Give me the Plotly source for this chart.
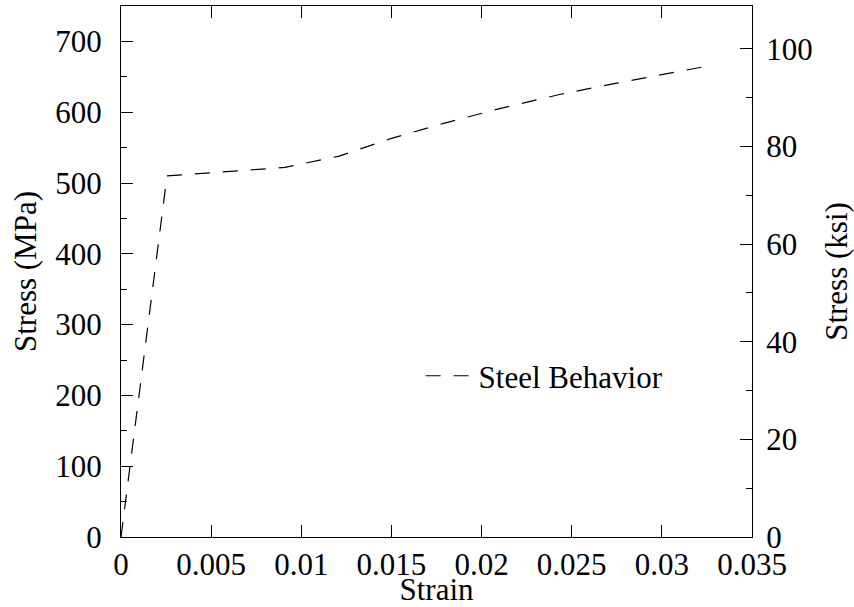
import plotly.graph_objects as go

# Data
strain = [0, 0.00255, 0.0091, 0.0121, 0.015, 0.018, 0.021, 0.0245, 0.0275, 0.0305, 0.0325]
stress_mpa = [0, 510, 522, 538, 563, 585, 605, 626, 641, 656, 665]
MPA_PER_KSI = 6.895
stress_ksi = [s / MPA_PER_KSI for s in stress_mpa]

x_tickvals = [0, 0.005, 0.01, 0.015, 0.02, 0.025, 0.03, 0.035]
x_ticktext = ["0", "0.005", "0.01", "0.015", "0.02", "0.025", "0.03", "0.035"]
y_tickvals = [0, 100, 200, 300, 400, 500, 600, 700]
y2_tickvals = [0, 20, 40, 60, 80, 100]

FONT = "Liberation Serif"
FS = 31

fig = go.Figure()
fig.add_trace(go.Scatter(
    x=strain, y=stress_mpa, mode="lines", name="Steel Behavior",
    line=dict(color="black", width=1.2, dash="15px,13px"),
))
fig.add_trace(go.Scatter(
    x=strain, y=stress_ksi, mode="lines", yaxis="y2", showlegend=False,
    line=dict(color="rgba(0,0,0,0)", width=0), hoverinfo="skip",
))

axis_common = dict(
    showgrid=False, zeroline=False, showline=True, linecolor="black", linewidth=1,
    ticks="inside", ticklen=12, tickcolor="black", tickwidth=1, automargin=False,
    tickfont=dict(family=FONT, size=FS, color="black"),
)

fig.update_layout(
    width=854, height=607,
    margin=dict(l=121, r=102, t=6, b=70),
    paper_bgcolor="white", plot_bgcolor="white",
    font=dict(family=FONT, size=FS, color="black"),
    xaxis=dict(
        **axis_common, range=[0, 0.035], mirror="ticks",
        tickvals=x_tickvals, ticktext=x_ticktext,
        title=dict(text="Strain", font=dict(family=FONT, size=FS), standoff=6),
    ),
    yaxis=dict(
        **axis_common, range=[0, 750], tickvals=y_tickvals, ticklabelstandoff=12,
        minor=dict(dtick=50, ticks="inside", ticklen=6, tickcolor="black", showgrid=False),
        title=dict(text="Stress (MPa)", font=dict(family=FONT, size=FS), standoff=9),
    ),
    yaxis2=dict(
        **axis_common, range=[0, 750 / MPA_PER_KSI], overlaying="y", side="right",
        tickvals=y2_tickvals, ticklabelstandoff=7,
        minor=dict(dtick=10, ticks="inside", ticklen=6, tickcolor="black", showgrid=False),
        title=dict(text="Stress (ksi)", font=dict(family=FONT, size=FS), standoff=14),
    ),
    legend=dict(
        x=0.4748, y=0.303, xanchor="left", yanchor="middle", itemwidth=48,
        bgcolor="rgba(0,0,0,0)", borderwidth=0,
        font=dict(family=FONT, size=FS),
    ),
    showlegend=True,
)

fig.write_html(
    "out.html",
    config={"displayModeBar": False},
    post_script="document.body.style.margin='0';document.body.style.overflow='hidden';",
)
